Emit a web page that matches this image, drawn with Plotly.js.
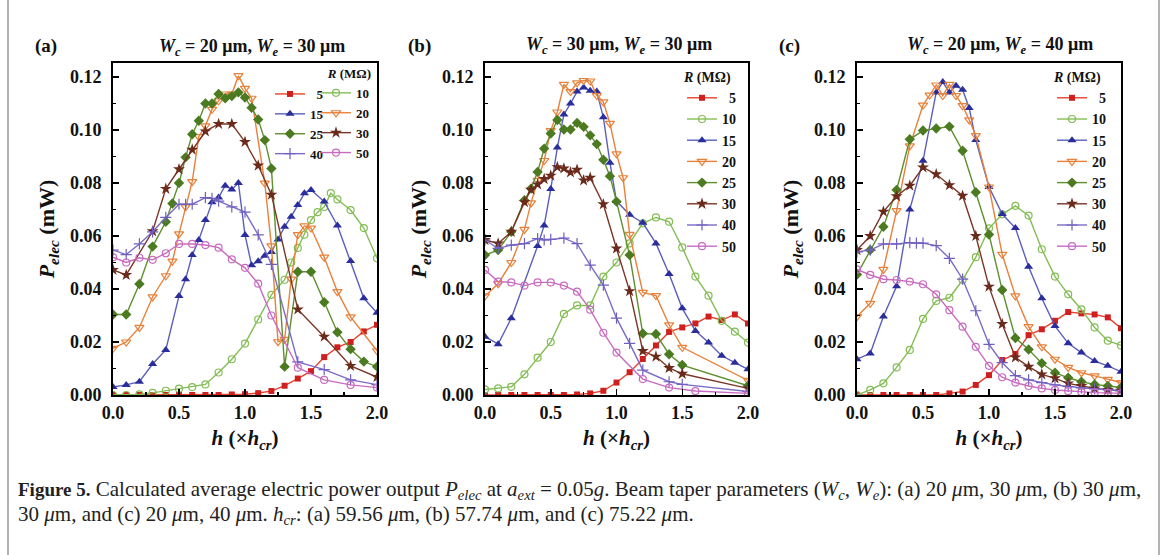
<!DOCTYPE html>
<html>
<head>
<meta charset="utf-8">
<script src="https://cdn.plot.ly/plotly-3.0.1.min.js"></script>
<style>html,body{margin:0;padding:0;background:#fff;}#chart{width:1168px;height:555px;}</style>
</head>
<body>
<div id="chart"></div>
<script>
// ---------------- DATA ----------------
const seriesNames = ['5', '10', '15', '20', '25', '30', '40', '50'];
const h21 = [0,0.1,0.2,0.3,0.4,0.5,0.6,0.7,0.8,0.9,1.0,1.1,1.2,1.3,1.4,1.5,1.6,1.7,1.8,1.9,2.0];

// Panel (a): Wc = 20 um, We = 30 um
const a5x = h21;
const a5y = [0,0,0,0,0,0,0,0,0,0.0002,0.0003,0.0007,0.0015,0.0035,0.0062,0.009,0.0143,0.018,0.020,0.024,0.0265];
const a10x = [0,0.1,0.2,0.3,0.4,0.5,0.6,0.7,0.8,0.9,1.0,1.1,1.2,1.3,1.35,1.4,1.45,1.5,1.55,1.6,1.65,1.7,1.8,1.9,2.0];
const a10y = [0,0,0.0002,0.0008,0.0016,0.0024,0.003,0.004,0.0085,0.0135,0.0194,0.0285,0.0378,0.0435,0.050,0.0555,0.0605,0.066,0.069,0.071,0.0762,0.0738,0.0698,0.063,0.0516];
const a15x = [0,0.1,0.2,0.3,0.4,0.5,0.55,0.6,0.65,0.7,0.75,0.8,0.85,0.9,0.95,1.0,1.05,1.1,1.15,1.2,1.25,1.3,1.35,1.4,1.45,1.5,1.6,1.7,1.8,1.9,2.0];
const a15y = [0.003,0.0038,0.005,0.0117,0.017,0.0374,0.0437,0.0528,0.0585,0.066,0.0727,0.0745,0.079,0.0776,0.080,0.0604,0.049,0.0505,0.0526,0.054,0.0587,0.0635,0.0673,0.0717,0.0761,0.0774,0.073,0.064,0.0506,0.0365,0.031];
const a20x = [0,0.1,0.2,0.3,0.4,0.45,0.5,0.55,0.6,0.65,0.7,0.75,0.8,0.85,0.9,0.95,1.0,1.05,1.15,1.2,1.25,1.3,1.35,1.4,1.45,1.5,1.6,1.7,1.8,2.0];
const a20y = [0.0176,0.020,0.0255,0.037,0.045,0.0505,0.0608,0.071,0.0805,0.0975,0.1016,0.1078,0.111,0.1136,0.1136,0.1205,0.1157,0.112,0.080,0.0563,0.0201,0.021,0.0437,0.0605,0.0638,0.063,0.052,0.039,0.0295,0.0167];
const a25x = [0,0.1,0.2,0.3,0.4,0.45,0.5,0.55,0.6,0.65,0.7,0.75,0.8,0.85,0.9,0.95,1.0,1.05,1.1,1.15,1.2,1.3,1.4,1.5,1.6,1.7,1.8,1.9,2.0];
const a25y = [0.0304,0.0304,0.0419,0.056,0.0654,0.0723,0.080,0.0897,0.0984,0.1035,0.110,0.110,0.1136,0.112,0.1128,0.1142,0.1123,0.1084,0.104,0.0962,0.0855,0.0107,0.0465,0.0465,0.035,0.0237,0.0173,0.0126,0.0107];
const a30x = [0,0.1,0.3,0.4,0.5,0.6,0.7,0.8,0.9,1.0,1.1,1.2,1.4,1.6,1.8,2.0];
const a30y = [0.0472,0.0453,0.0618,0.0778,0.0852,0.0926,0.0995,0.1023,0.1023,0.0955,0.0866,0.0756,0.0323,0.022,0.011,0.0068];
const a40x = [0,0.1,0.2,0.3,0.4,0.5,0.55,0.6,0.7,0.75,0.8,0.9,1.0,1.1,1.2,1.4,1.6,1.8,2.0];
const a40y = [0.0547,0.053,0.057,0.0616,0.067,0.072,0.072,0.072,0.0745,0.0742,0.0732,0.071,0.069,0.0604,0.0493,0.0125,0.0096,0.0057,0.0039];
const a50x = [0,0.1,0.2,0.3,0.4,0.5,0.6,0.7,0.8,0.9,1.0,1.1,1.2,1.4,1.6,1.8,2.0];
const a50y = [0.052,0.050,0.0518,0.051,0.0535,0.057,0.057,0.0566,0.0556,0.0512,0.048,0.042,0.030,0.0103,0.0057,0.0038,0.0028];

// Panel (b): Wc = 30 um, We = 30 um
const b5x = h21;
const b5y = [0,0,0,0,0,0,0,0.0002,0.0006,0.0016,0.0047,0.0086,0.0136,0.0187,0.0238,0.0255,0.027,0.0296,0.0283,0.0304,0.027];
const b10x = h21;
const b10y = [0.0021,0.0025,0.0031,0.0078,0.0141,0.020,0.0306,0.0338,0.0338,0.0447,0.050,0.0572,0.0648,0.067,0.0654,0.0557,0.0447,0.0375,0.028,0.0239,0.0198];
const b15x = [0,0.1,0.2,0.4,0.45,0.5,0.55,0.6,0.65,0.7,0.75,0.8,0.85,0.9,0.95,1.0,1.1,1.2,1.3,1.4,1.5,1.6,1.7,1.8,1.9,2.0];
const b15y = [0.022,0.0192,0.029,0.0562,0.064,0.0777,0.0934,0.1059,0.110,0.1145,0.1161,0.1148,0.1145,0.1048,0.0877,0.0732,0.068,0.065,0.0572,0.0457,0.0327,0.0242,0.0198,0.0148,0.0122,0.0097];
const b20x = [0,0.1,0.2,0.3,0.35,0.4,0.45,0.5,0.55,0.6,0.65,0.7,0.75,0.8,0.85,0.9,0.95,1.0,1.05,1.1,1.2,1.3,1.4,1.5,2.0];
const b20y = [0.0374,0.042,0.050,0.0625,0.0725,0.081,0.0885,0.0998,0.1068,0.1172,0.1145,0.1178,0.1187,0.1185,0.113,0.1106,0.1025,0.091,0.082,0.0606,0.0387,0.0375,0.0265,0.018,0.0055];
const b25x = [0,0.1,0.2,0.3,0.35,0.4,0.45,0.5,0.55,0.6,0.65,0.7,0.75,0.8,0.85,0.9,0.95,1.0,1.1,1.2,1.3,1.4,1.5,2.0];
const b25y = [0.0528,0.0547,0.0616,0.0735,0.0779,0.0842,0.093,0.0987,0.1038,0.1002,0.1002,0.1027,0.1012,0.098,0.0947,0.0888,0.0826,0.073,0.0528,0.0232,0.023,0.0154,0.0113,0.0035];
const b30x = [0,0.1,0.2,0.3,0.35,0.4,0.45,0.5,0.55,0.6,0.65,0.7,0.75,0.8,0.9,1.0,1.1,1.2,1.3,1.4,1.5,2.0];
const b30y = [0.0585,0.0572,0.0616,0.0728,0.0775,0.0795,0.0815,0.0828,0.086,0.0855,0.084,0.085,0.081,0.082,0.072,0.0553,0.0392,0.0166,0.0145,0.0102,0.008,0.0025];
const b40x = [0,0.1,0.2,0.3,0.4,0.45,0.5,0.6,0.7,0.8,0.9,1.0,1.1,1.2,1.4,1.5,2.0];
const b40y = [0.0585,0.0553,0.0566,0.0571,0.059,0.0585,0.0587,0.0592,0.0571,0.049,0.0415,0.029,0.0195,0.0094,0.005,0.004,0.0013];
const b50x = [0,0.1,0.2,0.3,0.4,0.5,0.6,0.7,0.8,0.9,1.0,1.2,1.4,1.6,2.0];
const b50y = [0.0472,0.0428,0.0425,0.0413,0.0425,0.0425,0.0413,0.039,0.0322,0.0235,0.016,0.006,0.0028,0.0015,0.0006];

// Panel (c): Wc = 20 um, We = 40 um
const c5x = h21;
const c5y = [0,0,0,0,0,0,0,0.0006,0.0013,0.0038,0.0075,0.0132,0.0155,0.0226,0.0248,0.028,0.0313,0.0308,0.0304,0.0293,0.0252];
const c10x = h21;
const c10y = [0,0.0019,0.0044,0.0104,0.017,0.0287,0.0355,0.0367,0.0434,0.052,0.0629,0.0682,0.0714,0.0677,0.055,0.0447,0.038,0.0323,0.0255,0.0205,0.0187];
const c15x = [0,0.1,0.2,0.3,0.4,0.5,0.6,0.65,0.7,0.75,0.8,0.85,0.9,1.0,1.1,1.2,1.3,1.4,1.5,1.6,1.7,1.8,1.9,2.0];
const c15y = [0.0135,0.0157,0.0296,0.041,0.070,0.0884,0.1142,0.1181,0.1142,0.1167,0.1152,0.1083,0.0962,0.0785,0.0683,0.063,0.0484,0.0365,0.026,0.0195,0.016,0.0128,0.011,0.0088];
const c20x = [0,0.1,0.2,0.3,0.4,0.5,0.55,0.6,0.65,0.7,0.75,0.8,0.85,0.9,1.0,1.1,1.2,1.3,1.4,1.5,1.6,1.7,1.8,1.9,2.0];
const c20y = [0.0296,0.0346,0.0474,0.0696,0.094,0.1094,0.1132,0.117,0.113,0.1172,0.113,0.1092,0.1038,0.0979,0.0785,0.0531,0.0374,0.0258,0.0182,0.0135,0.0104,0.0084,0.0072,0.0059,0.0047];
const c25x = h21;
const c25y = [0.0455,0.0547,0.0635,0.0774,0.0965,0.0998,0.1006,0.1013,0.0922,0.0765,0.0606,0.0396,0.0215,0.0172,0.012,0.0084,0.0065,0.005,0.004,0.0034,0.0028];
const c30x = h21;
const c30y = [0.0547,0.060,0.0692,0.075,0.079,0.0859,0.0833,0.0792,0.0752,0.060,0.0409,0.0268,0.0142,0.0107,0.0078,0.0063,0.0044,0.0034,0.0025,0.0019,0.0016];
const c40x = [0,0.1,0.2,0.3,0.4,0.45,0.5,0.6,0.7,0.8,0.9,1.0,1.1,1.2,1.3,1.4,1.5,1.6,1.7,1.8,1.9,2.0];
const c40y = [0.054,0.0547,0.057,0.057,0.0575,0.0573,0.0573,0.0564,0.0516,0.0437,0.0318,0.0191,0.0122,0.0073,0.0057,0.0047,0.0038,0.0032,0.0027,0.0023,0.002,0.0016];
const c50x = h21;
const c50y = [0.0474,0.0453,0.0437,0.0434,0.0428,0.0418,0.038,0.032,0.0258,0.0182,0.011,0.0067,0.0047,0.0034,0.0025,0.0019,0.0015,0.0011,0.0009,0.0008,0.0006];

const yTickVals = [0, 0.02, 0.04, 0.06, 0.08, 0.10, 0.12];
const xTickVals = [0, 0.5, 1.0, 1.5, 2.0];

// ---------------- STYLE ----------------
const SERIF = 'Liberation Serif, Times New Roman, serif';
const styles = {
  '5':  {line: '#e5432f', mcol: '#d01f1f', sym: 'square', size: 6},
  '10': {line: '#84bd55', mcol: '#84bd55', sym: 'circle-open', size: 7},
  '15': {line: '#5b5fbb', mcol: '#2a2e9c', sym: 'triangle-up', size: 8},
  '20': {line: '#e8813b', mcol: '#e8813b', sym: 'triangle-down-open', size: 8},
  '25': {line: '#5f8f2e', mcol: '#4b7a20', sym: 'diamond', size: 8},
  '30': {line: '#7a3626', mcol: '#6a2a1c', sym: 'star', size: 9},
  '40': {line: '#7b6bc6', mcol: '#6f5fc0', sym: 'cross-thin', size: 8},
  '50': {line: '#c86bc0', mcol: '#c86bc0', sym: 'circle-open', size: 7}
};

const panels = [
  {xs: [a5x,a10x,a15x,a20x,a25x,a30x,a40x,a50x], ys: [a5y,a10y,a15y,a20y,a25y,a30y,a40y,a50y], xa: 'x', ya: 'y',
   legends: ['legend2','legend3','legend2','legend3','legend2','legend3','legend2','legend3']},
  {xs: [b5x,b10x,b15x,b20x,b25x,b30x,b40x,b50x], ys: [b5y,b10y,b15y,b20y,b25y,b30y,b40y,b50y], xa: 'x2', ya: 'y2',
   legends: Array(8).fill('legend4')},
  {xs: [c5x,c10x,c15x,c20x,c25x,c30x,c40x,c50x], ys: [c5y,c10y,c15y,c20y,c25y,c30y,c40y,c50y], xa: 'x3', ya: 'y3',
   legends: Array(8).fill('legend5')}
];

const traces = [];
panels.forEach(function(p, pi) {
  seriesNames.forEach(function(nm, i) {
    const s = styles[nm];
    const isOpen = s.sym.indexOf('open') >= 0 || s.sym === 'cross-thin';
    traces.push({
      type: 'scatter', mode: 'lines+markers',
      x: p.xs[i], y: p.ys[i], xaxis: p.xa, yaxis: p.ya,
      name: (nm.length === 1 ? '\u2007' : '') + nm,
      legend: p.legends[i],
      line: {color: s.line, width: 1.4},
      marker: {symbol: s.sym, size: s.size, color: s.mcol,
               line: {color: s.mcol, width: isOpen ? 1.2 : 0}},
      showlegend: true
    });
  });
});

const yDom = [1 - 395/555, 1 - 63/555];
const xDoms = [[113/1168, 377/1168], [485/1168, 748/1168], [857/1168, 1121/1168]];

function xAxis(dom, anchor) {
  return {
    domain: dom, anchor: anchor, range: [0, 2],
    tickvals: xTickVals, tickformat: '.1f',
    ticks: 'inside', ticklen: 6, tickwidth: 1.5, tickcolor: '#000',
    minor: {ticks: 'inside', ticklen: 3, tickwidth: 1.2, dtick: 0.25, tick0: 0, tickcolor: '#000'},
    showline: true, linewidth: 2, linecolor: '#000', mirror: true,
    showgrid: false, zeroline: false,
    tickfont: {family: SERIF, size: 18, color: '#111', weight: 'bold'},
    title: {text: '<i>h</i> (×<i>h</i><sub><i>cr</i></sub>)', standoff: 9,
            font: {family: SERIF, size: 21, color: '#111', weight: 'bold'}}
  };
}
function yAxis(dom, anchor) {
  return {
    domain: dom, anchor: anchor, range: [0, 0.1253],
    tickvals: yTickVals, tickformat: '.2f',
    ticks: 'inside', ticklen: 6, tickwidth: 1.5, tickcolor: '#000',
    minor: {ticks: 'inside', ticklen: 3, tickwidth: 1.2, dtick: 0.01, tick0: 0, tickcolor: '#000'},
    showline: true, linewidth: 2, linecolor: '#000', mirror: true,
    showgrid: false, zeroline: false,
    ticklabelstandoff: 6,
    tickfont: {family: SERIF, size: 18, color: '#111', weight: 'bold'},
    title: {text: '<i>P</i><sub><i>elec</i></sub> (mW)', standoff: 9,
            font: {family: SERIF, size: 22, color: '#111', weight: 'bold'}}
  };
}

function legendCfg(xpx, ypx, size, title, side) {
  const cfg = {
    x: xpx / 1168, y: 1 - ypx / 555, xanchor: 'left', yanchor: 'top',
    bgcolor: 'rgba(0,0,0,0)', borderwidth: 0,
    font: {family: SERIF, size: size, color: '#111', weight: 'bold'},
    itemclick: false, itemdoubleclick: false, tracegroupgap: 0
  };
  if (title) cfg.title = {text: title, font: {family: SERIF, size: size, color: '#111', weight: 'bold'}, side: side || 'top'};
  return cfg;
}

const panelTitle = function(c, e) {
  return '<i>W</i><sub><i>c</i></sub> = ' + c + ' μm, <i>W</i><sub><i>e</i></sub> = ' + e + ' μm';
};
const titleFont = {family: SERIF, size: 18, color: '#111', weight: 'bold'};
const capFont = {family: SERIF, size: 21, color: '#222'};

const annotations = [
  {text: '(a)', x: 33/1168, y: 1 - 46/555, xanchor: 'left', yanchor: 'middle', font: {family: SERIF, size: 19, color: '#111', weight: 'bold'}},
  {text: '(b)', x: 406/1168, y: 1 - 46/555, xanchor: 'left', yanchor: 'middle', font: {family: SERIF, size: 19, color: '#111', weight: 'bold'}},
  {text: '(c)', x: 777/1168, y: 1 - 46/555, xanchor: 'left', yanchor: 'middle', font: {family: SERIF, size: 19, color: '#111', weight: 'bold'}},
  {text: panelTitle(20, 30), x: 252/1168, y: 1 - 47/555, xanchor: 'center', yanchor: 'middle', font: titleFont},
  {text: panelTitle(30, 30), x: 619/1168, y: 1 - 45/555, xanchor: 'center', yanchor: 'middle', font: titleFont},
  {text: panelTitle(20, 40), x: 1000/1168, y: 1 - 45/555, xanchor: 'center', yanchor: 'middle', font: titleFont},
  {text: '<span style="font-size:19px"><b>Figure 5.</b></span> Calculated average electric power output <i>P</i><sub><i>elec</i></sub> at <i>a</i><sub><i>ext</i></sub> = 0.05<i>g</i>. Beam taper parameters (<i>W</i><sub><i>c</i></sub>, <i>W</i><sub><i>e</i></sub>): (a) 20 <i>μ</i>m, 30 <i>μ</i>m, (b) 30 <i>μ</i>m,',
   x: 16/1168, y: 1 - 490/555, xanchor: 'left', yanchor: 'middle', align: 'left', height: 24, font: capFont},
  {text: '30 <i>μ</i>m, and (c) 20 <i>μ</i>m, 40 <i>μ</i>m. <i>h</i><sub><i>cr</i></sub>: (a) 59.56 <i>μ</i>m, (b) 57.74 <i>μ</i>m, and (c) 75.22 <i>μ</i>m.',
   x: 16/1168, y: 1 - 515/555, xanchor: 'left', yanchor: 'middle', align: 'left', height: 24, font: capFont}
].map(function(a) { return Object.assign({xref: 'paper', yref: 'paper', showarrow: false}, a); });

const layout = {
  width: 1168, height: 555,
  margin: {l: 0, r: 0, t: 0, b: 0},
  paper_bgcolor: '#fff', plot_bgcolor: '#fff',
  font: {family: SERIF, color: '#111'},
  xaxis: xAxis(xDoms[0], 'y'), yaxis: yAxis(yDom, 'x'),
  xaxis2: xAxis(xDoms[1], 'y2'), yaxis2: yAxis(yDom, 'x2'),
  xaxis3: xAxis(xDoms[2], 'y3'), yaxis3: yAxis(yDom, 'x3'),
  showlegend: true,
  legend2: legendCfg(270, 79, 13, null),
  legend3: legendCfg(316, 61, 13, '<i>R</i> (MΩ)', 'top right'),
  legend4: legendCfg(682, 64, 14, '<i>R</i> (MΩ)'),
  legend5: legendCfg(1052, 64, 14, '<i>R</i> (MΩ)'),
  annotations: annotations,
  shapes: [
    {type: 'line', xref: 'paper', yref: 'paper', x0: 8/1168, x1: 8/1168, y0: 0, y1: 1, line: {color: '#9a9a9a', width: 1.5}},
    {type: 'line', xref: 'paper', yref: 'paper', x0: 1159/1168, x1: 1159/1168, y0: 0, y1: 1, line: {color: '#9a9a9a', width: 1.5}}
  ]
};

Plotly.newPlot('chart', traces, layout, {staticPlot: true, displayModeBar: false});
</script>
</body>
</html>
